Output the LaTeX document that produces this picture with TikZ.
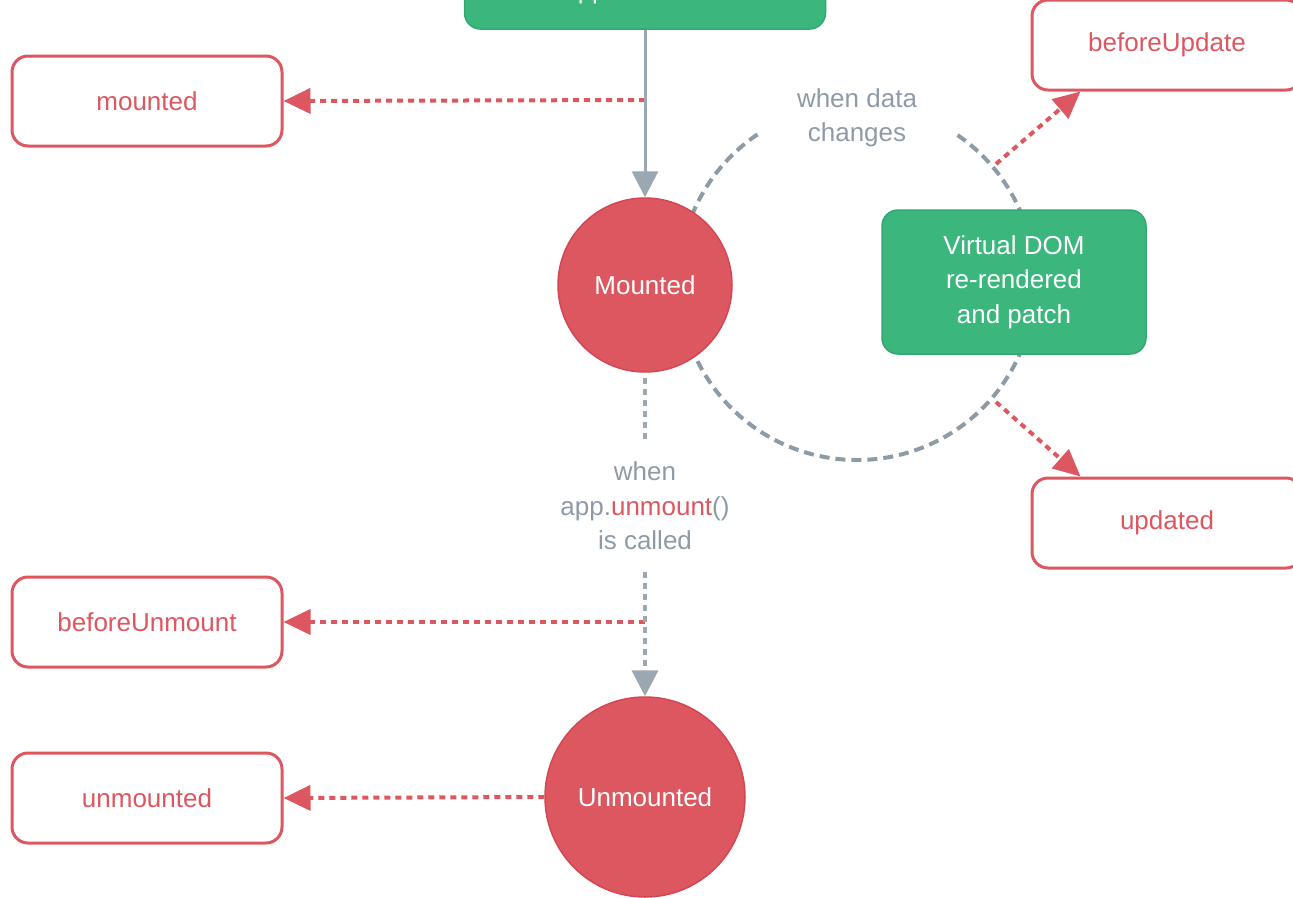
\documentclass[tikz,border=0pt]{standalone}
\usepackage{fontspec}
\setmainfont{Liberation Sans}
\usetikzlibrary{arrows.meta}
\definecolor{vred}{HTML}{DC5760}
\definecolor{vredd}{HTML}{D24752}
\definecolor{vgreen}{HTML}{3BB77E}
\definecolor{vgreend}{HTML}{33A971}
\definecolor{grisfl}{HTML}{9BA8B1}
\definecolor{grisarc}{HTML}{8C9BA5}
\definecolor{gristxt}{HTML}{8E9BA6}

\begin{document}
\begin{tikzpicture}[x=1pt,y=-1pt,font=\fontsize{26}{34.5}\selectfont]
\tikzset{hook/.style={draw=vred, line width=3pt, rounded corners=16pt, fill=white, text=vred, minimum width=270pt, minimum height=90pt}}
\tikzset{etat/.style={circle, fill=vred, draw=vredd, line width=1.5pt, text=white}}
\tikzset{vert/.style={fill=vgreen, draw=vgreend, line width=1.5pt, rounded corners=16pt, text=white, align=center}}
\tikzset{gtexte/.style={text=gristxt, align=center}}
\tikzset{pointille/.style={vred, line width=4pt, dash pattern=on 6pt off 5pt, -{Triangle[length=27pt,width=25pt]}}}
\tikzset{grispoint/.style={grisfl, line width=4pt, dash pattern=on 6pt off 5pt}}
\useasboundingbox (0,0) rectangle (1293,897);
\clip (0,0) rectangle (1293,897);
% boucle de mise a jour
\draw[grisarc, line width=4pt, dash pattern=on 10pt off 6pt] (857,282) ++(-124:178) arc[start angle=-124, end angle=-417, radius=178];
\node[vert, minimum width=361pt, minimum height=110pt] (creer) at (645,-26) {Create app.\$el and\\append it to el};
\node[etat, minimum size=174pt] (mounted) at (645,285) {Mounted};
\node[etat, minimum size=200pt] (unmounted) at (645,797) {Unmounted};
\node[vert, minimum width=264pt, minimum height=144pt] (vdom) at (1014,282) {Virtual DOM\\re-rendered\\and patch};
\node[hook] (hmounted) at (147,101) {mounted};
\node[hook] (hbeforeupdate) at (1167,45) {beforeUpdate};
\node[hook] (hupdated) at (1167,523) {updated};
\node[hook] (hbeforeunmount) at (147,622) {beforeUnmount};
\node[hook] (hunmounted) at (147,798) {unmounted};
\node[gtexte] (quand) at (857,118) {when data\\changes};
\node[gtexte, inner ysep=22pt] (unmount) at (645,506) {when\\app.\textcolor{vred}{unmount}()\\is called};
\coordinate (m1) at (645,100);
\coordinate (m2) at (645,622);
\coordinate (a1) at (996,164);
\coordinate (a2) at (996,402);
% hooks
\draw[pointille] (m1) -- (hmounted.east);
\draw[pointille] (m2) -- (hbeforeunmount.east);
\draw[pointille] (unmounted.west) -- (hunmounted.east);
\draw[pointille] (a1) -- ([xshift=50pt]hbeforeupdate.south west);
\draw[pointille] (a2) -- ([xshift=50pt]hupdated.north west);
% cycle de vie
\draw[grisfl, line width=3pt, -{Triangle[length=26pt,width=26pt]}] (creer) -- (mounted);
\draw[grispoint] ([yshift=-5pt]mounted.south) -- (unmount.north);
\draw[grispoint, -{Triangle[length=26pt,width=26pt]}] (unmount.south) -- (unmounted.north);
\end{tikzpicture}
\end{document}
